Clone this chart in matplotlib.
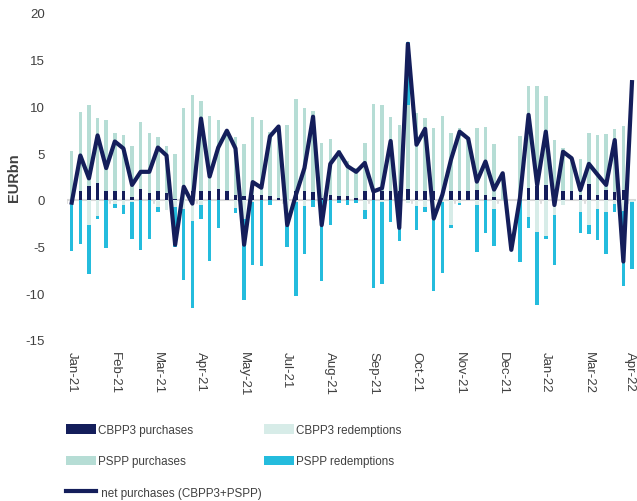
import matplotlib
matplotlib.use("Agg")
import matplotlib.pyplot as plt
import matplotlib.transforms as mtransforms
import numpy as np
from matplotlib.patches import Patch
from matplotlib.lines import Line2D

plt.rcParams['font.family'] = ['Liberation Sans', 'DejaVu Sans']
plt.rcParams['axes.unicode_minus'] = False

tick_labels = ["Jan-21", "Feb-21", "Mar-21", "Apr-21", "May-21", "Jul-21", "Aug-21",
               "Sep-21", "Oct-21", "Nov-21", "Dec-21", "Jan-22", "Mar-22", "Apr-22"]

cbpp3_purchases = [0.0, 1.0, 1.5, 1.8, 1.0, 0.9, 0.9, 0.3, 1.2, 0.75,
                   0.9, 0.7, 0.1, 0.0, 0.9, 0.9, 0.9, 1.2, 0.9, 0.5,
                   0.4, 0.5, 0.5, 0.45, 0.25, 0.0, 0.9, 0.9, 0.8, 0.25,
                   0.5, 0.45, 0.45, 0.25, 1.0, 1.0, 1.0, 1.0, 1.0, 1.2,
                   1.0, 1.0, 1.0, 0.0, 0.9, 0.9, 0.9, 1.05, 0.5, 0.35,
                   0.0, 0.0, 0.0, 1.3, 1.5, 1.6, 0.5, 1.0, 0.9, 0.5,
                   1.75, 0.55, 1.05, 0.85, 1.05, 0.0]
pspp_purchases = [5.2, 8.4, 8.7, 7.0, 7.5, 6.3, 6.0, 5.45, 7.1, 6.45,
                  5.85, 5.1, 4.8, 9.85, 10.3, 9.7, 8.1, 7.3, 6.6, 6.25,
                  5.6, 8.4, 8.05, 6.85, 7.6, 8.0, 9.9, 8.95, 8.75, 5.8,
                  6.0, 4.85, 3.75, 3.15, 5.05, 9.3, 9.2, 7.9, 7.0, 8.9,
                  8.25, 7.8, 6.65, 9.0, 6.3, 6.75, 5.7, 6.6, 7.3, 5.6,
                  2.9, 0.0, 6.8, 10.9, 10.7, 9.5, 5.9, 4.6, 3.6, 3.9,
                  5.45, 6.4, 6.05, 6.7, 6.85, 0.0]
cbpp3_redemptions = [-0.2, 0.0, -2.7, -1.7, 0.0, -0.4, -0.5, -0.2, 0.0, 0.0,
                     -0.8, -1.1, -0.8, -1.0, -2.3, -0.5, 0.0, 0.0, 0.0, -0.9,
                     -2.0, -0.2, 0.0, 0.0, 0.0, -2.8, -0.2, -0.7, 0.0, 0.0,
                     0.0, 0.0, 0.0, 0.0, -1.1, 0.0, -0.2, 0.0, -3.0, -0.3,
                     -0.7, -0.8, -2.15, -0.2, -2.7, -0.3, 0.0, -0.5, 0.0, -1.0,
                     0.0, 0.0, 0.0, -1.8, -3.4, -3.9, -1.6, -0.5, 0.0, -1.3,
                     -2.7, -1.0, -1.3, -0.4, -1.2, -0.2]
pspp_redemptions = [-5.3, -4.7, -5.2, -0.3, -5.2, -0.5, -1.05, -4.0, -5.4, -4.2,
                    -0.5, 0.0, -4.2, -7.6, -9.3, -1.5, -6.5, -3.0, 0.0, -0.55,
                    -8.7, -6.8, -7.1, -0.5, 0.0, -2.2, -10.1, -5.1, -0.8, -8.7,
                    -2.7, -0.3, -0.5, -0.3, -1.0, -9.4, -8.8, -2.4, -1.45, 6.8,
                    -2.5, -0.5, -7.65, -7.65, -0.3, -0.3, 0.0, -5.1, -3.6, -3.9,
                    0.0, 0.0, -6.6, -1.2, -7.85, -0.3, -5.4, 0.0, 0.0, -2.3,
                    -0.95, -3.35, -4.5, -0.9, -8.0, -7.2]
net_purchases = [-0.3, 4.75, 2.3, 6.9, 3.4, 6.25, 5.5, 1.6, 3.0, 3.0,
                 5.6, 4.75, -4.8, 1.4, -0.4, 8.7, 2.5, 5.6, 7.4, 5.5,
                 -4.8, 1.9, 1.3, 6.8, 7.85, -2.7, 0.5, 3.4, 8.9, -2.7,
                 3.85, 5.1, 3.6, 3.0, 3.95, 0.9, 1.25, 6.3, -3.0, 16.7,
                 5.9, 7.6, -2.0, 0.55, 4.3, 7.3, 6.55, 1.95, 4.1, 1.1,
                 2.85, -5.35, 0.2, 9.1, 1.6, 7.3, -0.55, 5.15, 4.45, 1.05,
                 3.85, 2.7, 1.6, 6.4, -6.6, 12.6]

c_cb_p = "#141e5b"
c_cb_r = "#d7ece8"
c_ps_p = "#b6ddd5"
c_ps_r = "#24bcdd"

fig = plt.figure(figsize=(6.37, 5.02), dpi=100)
ax = fig.add_axes([67.4 / 637, 1 - 341 / 502, (636.3 - 67.4) / 637, (341 - 14) / 502])

n = len(net_purchases)
x = np.arange(n)
w = 0.40

cbp = np.array(cbpp3_purchases)
psp = np.array(pspp_purchases)
cbr = np.array(cbpp3_redemptions)
psr = np.array(pspp_redemptions)

# stacked like Excel: positives stack upward, negatives downward
pos_base = np.zeros(n)
neg_base = np.zeros(n)
for vals, col in [(cbp, c_cb_p), (cbr, c_cb_r), (psp, c_ps_p), (psr, c_ps_r)]:
    bottoms = np.where(vals >= 0, pos_base, neg_base)
    ax.bar(x, vals, width=w, bottom=bottoms, color=col, linewidth=0, zorder=2)
    pos_base = pos_base + np.where(vals >= 0, vals, 0)
    neg_base = neg_base + np.where(vals < 0, vals, 0)

ax.plot(x, net_purchases, color=c_cb_p, lw=3.0, solid_joinstyle='round', zorder=4)

ax.set_xlim(-0.5, n - 0.5)
ax.set_ylim(-15, 20)
ax.set_yticks(np.arange(-15, 21, 5))
ax.tick_params(axis='y', length=0, labelsize=9.5, labelcolor='#404040', pad=16)

for s in ax.spines.values():
    s.set_visible(False)
ax.axhline(0, color='#d9d9d9', lw=1.5, zorder=1)
for k in range(0, n + 1, 5):
    ax.plot([k - 0.5, k - 0.5], [0, -0.35], color='#d9d9d9', lw=1.2, zorder=1)

label_pos = list(range(0, n, 5))
ax.set_xticks(label_pos)
ax.set_xticklabels(tick_labels, rotation=-90, fontsize=9.5, color='#404040')
ax.tick_params(axis='x', length=0, pad=8)
last = ax.get_xticklabels()[-1]
last.set_transform(last.get_transform() +
                   mtransforms.ScaledTranslation(-1.5 / 72, 0, fig.dpi_scale_trans))

fig.text(14 / 637, 1 - 178 / 502, "EURbn", rotation=90, ha='center', va='center',
         fontsize=10.5, fontweight='bold', color='#404040')

handles = [Patch(facecolor=c_cb_p, edgecolor='none'),
           Patch(facecolor=c_ps_p, edgecolor='none'),
           Line2D([0], [0], color=c_cb_p, lw=3),
           Patch(facecolor=c_cb_r, edgecolor='none'),
           Patch(facecolor=c_ps_r, edgecolor='none')]
labels = ["CBPP3 purchases", "PSPP purchases", " net purchases (CBPP3+PSPP)",
          "CBPP3 redemptions", "PSPP redemptions"]
fig.legend(handles, labels, ncol=2, loc='upper left',
           bbox_to_anchor=(66 / 637, 1 - 425 / 502), frameon=False,
           fontsize=8.4, handlelength=2.6, handleheight=0.85, handletextpad=0.15,
           labelspacing=1.65, columnspacing=0.2, borderpad=0, borderaxespad=0,
           labelcolor='#404040')

fig.savefig("out.png", dpi=100)
